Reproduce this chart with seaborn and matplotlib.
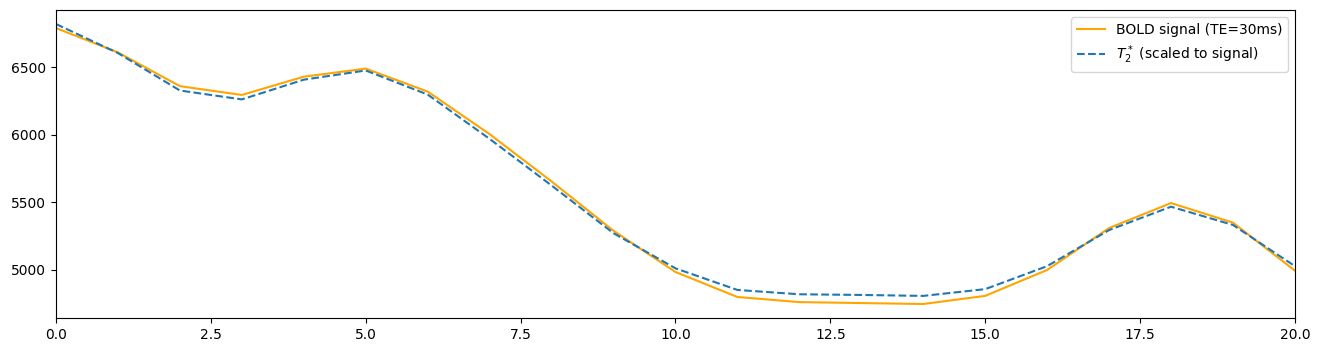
import numpy as np
import pandas as pd
import seaborn as sns
import matplotlib.pyplot as plt

# time points (volumes)
t = list(range(21))

# BOLD signal at TE=30ms
bold = [6790, 6610, 6360, 6295, 6430, 6490, 6320, 6005, 5655, 5290,
        4985, 4800, 4762, 4755, 4748, 4808, 5000, 5310, 5495, 5350, 4995]

# T2* scaled to signal
t2s = [6820, 6605, 6328, 6262, 6408, 6476, 6298, 5970, 5625, 5272,
       5012, 4852, 4820, 4815, 4808, 4858, 5028, 5295, 5468, 5333, 5028]

df = pd.DataFrame({'t': t, 'bold': bold, 't2s': t2s})

fig, ax = plt.subplots(figsize=(13.2, 3.51), dpi=100)
sns.lineplot(data=df, x='t', y='bold', color='orange', label='BOLD signal (TE=30ms)', ax=ax)
sns.lineplot(data=df, x='t', y='t2s', color='tab:blue', linestyle='--',
             label=r'$T_2^*$ (scaled to signal)', ax=ax)
ax.set_xlim(0, 20)
ax.set_xlabel('')
ax.set_ylabel('')
ax.legend(loc='upper right')

fig.subplots_adjust(left=0.0424, right=0.981, top=0.9715, bottom=0.094)
fig.savefig('out.png')
